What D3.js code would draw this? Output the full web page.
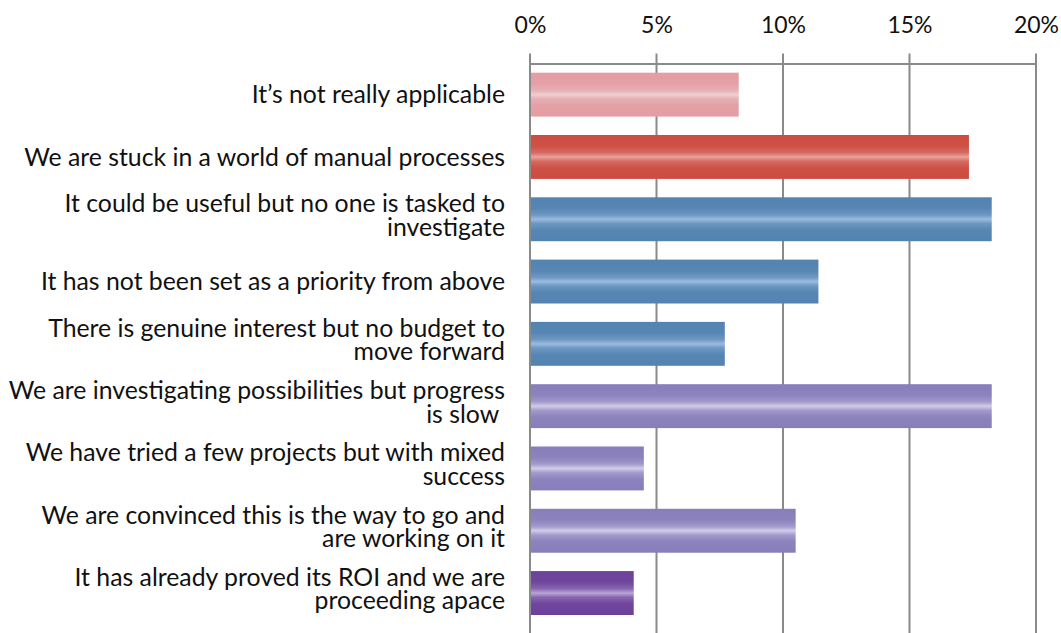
<!DOCTYPE html>
<html>
<head>
<meta charset="utf-8">
<script src="https://cdn.jsdelivr.net/npm/d3@7"></script>
<style>
  html, body { margin: 0; padding: 0; background: #fff; }
  svg { display: block; }
  text { font-family: Lato, "Open Sans", sans-serif; fill: #111; }
</style>
</head>
<body>
<svg id="chart" width="1061" height="633"></svg>
<script>
// Survey answers (lines split where the label wraps)
const categories = [
  "It\u2019s not really applicable",
  "We are stuck in a world of manual processes",
  "It could be useful but no one is tasked to\ninvestigate",
  "It has not been set as a priority from above",
  "There is genuine interest but no budget to\nmove forward",
  "We are investigating possibilities but progress\nis slow ",
  "We have tried a few projects but with mixed\nsuccess",
  "We are convinced this is the way to go and\nare working on it",
  "It has already proved its ROI and we are\nproceeding apace"
];
// Share of respondents, in percent
const values = [8.25, 17.35, 18.25, 11.4, 7.7, 18.25, 4.5, 10.5, 4.1];
// Colour group of each answer
const groups = ["pink", "red", "blue", "blue", "blue", "lilac", "lilac", "lilac", "purple"];
const tickValues = [0, 5, 10, 15, 20];

const palette = {
  pink:   { base: "#E39EA4", light: "#EDCFD0" },
  red:    { base: "#CD4C41", light: "#E8A29A" },
  blue:   { base: "#5383B1", light: "#9BBBE0" },
  lilac:  { base: "#887EBB", light: "#D2CCE8" },
  purple: { base: "#6C419A", light: "#B8A6D6" }
};

const svg = d3.select("#chart");
const margin = { top: 63.5, left: 530, right: 25 };
const width = 1061;

const x = d3.scaleLinear().domain([0, 20]).range([margin.left, width - margin.right]);
const y = d3.scaleBand()
  .domain(d3.range(categories.length))
  .range([margin.top, margin.top + 62.3 * categories.length])
  .paddingInner(0.295)
  .paddingOuter(0.1475);

// Glossy tube gradients
const defs = svg.append("defs");
Object.entries(palette).forEach(([key, c]) => {
  const g = defs.append("linearGradient")
    .attr("id", "grad-" + key)
    .attr("x1", 0).attr("y1", 0).attr("x2", 0).attr("y2", 1);
  const mid = d3.interpolateRgb(c.base, c.light);
  [[0, 0], [0.25, 0.05], [0.4, 0.35], [0.5, 1], [0.6, 0.35], [0.75, 0.05], [1, 0]]
    .forEach(([o, t]) => g.append("stop").attr("offset", o).attr("stop-color", mid(t)));
});

// Vertical gridlines
svg.append("g")
  .selectAll("line")
  .data(tickValues)
  .join("line")
  .attr("x1", d => x(d)).attr("x2", d => x(d))
  .attr("y1", margin.top - 10).attr("y2", 633)
  .attr("stroke", "#8a8a8a")
  .attr("stroke-width", 2);

// Top axis
const axis = svg.append("g")
  .attr("transform", `translate(0,${margin.top})`)
  .call(d3.axisTop(x).tickValues(tickValues).tickFormat(d => d + "%").tickSize(0).tickPadding(31));
axis.select(".domain").attr("stroke", "#8a8a8a").attr("stroke-width", 2);
axis.selectAll("text")
  .style("font-family", "Lato, 'Open Sans', sans-serif")
  .style("font-size", "23px")
  .attr("fill", "#111");

// Bars
svg.append("g")
  .selectAll("rect")
  .data(values)
  .join("rect")
  .attr("x", x(0) + 1)
  .attr("y", (d, i) => y(i))
  .attr("width", d => x(d) - x(0) - 1)
  .attr("height", y.bandwidth())
  .attr("fill", (d, i) => `url(#grad-${groups[i]})`);

// Category labels, one text per line
const lineH = 23.5;
const labelRows = svg.append("g");
categories.forEach((d, i) => {
  const lines = d.split("\n");
  const cy = y(i) + y.bandwidth() / 2 - (lines.length > 1 ? 4 : 0);
  lines.forEach((ln, k) => {
    labelRows.append("text")
      .attr("text-anchor", "end")
      .style("font-size", "24.8px")
      .style("white-space", "pre")
      .attr("x", 505)
      .attr("y", cy + (k - (lines.length - 1) / 2) * lineH)
      .attr("dy", "0.35em")
      .text(ln);
  });
});
</script>
</body>
</html>
